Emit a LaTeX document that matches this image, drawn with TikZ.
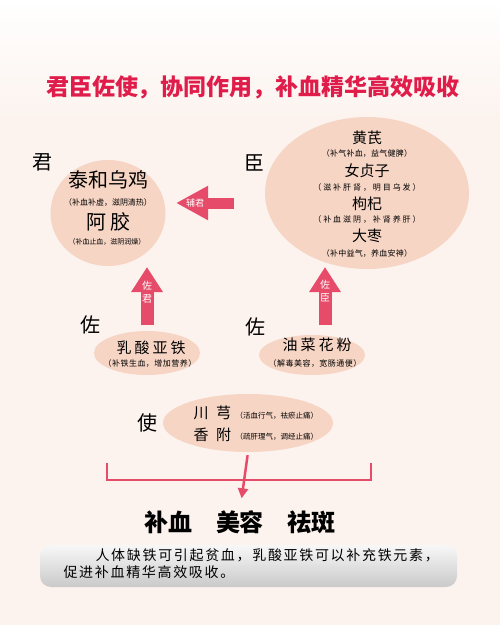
\documentclass[tikz,border=0pt]{standalone}
\usepackage{fontspec}
\setmainfont{Noto Sans CJK SC}
\usetikzlibrary{arrows.meta,shapes.geometric}
\definecolor{bg}{HTML}{FCF3EE}
\definecolor{peach}{HTML}{F6D5C4}
\definecolor{rose}{HTML}{E64C69}
\definecolor{ttl}{HTML}{E01C4A}
\newcommand\fs[2]{\fontsize{#1}{#2}\selectfont}
\newcommand\lsp[1]{\addfontfeature{LetterSpace=#1}}
\begin{document}
\begin{tikzpicture}[x=1pt,y=-1pt,ell/.style={ellipse,fill=peach,inner sep=0pt},gloss/.style={font=\fs{8}{8}},lbl/.style={font=\fs{20}{20}},
blk/.style={draw=rose,line width=#1},brk/.style={draw=rose,line width=2.5pt},wt/.style={text=white,font=\fs{#1}{13}}]
\fill[bg](0,0)rectangle(500,625);\fill[top color=white,bottom color=bg](0,0)rectangle(500,120);
\useasboundingbox(0,0)rectangle(500,625);
\node[text=ttl,font=\bfseries\fs{23}{23}](ttl)at(253,87){君臣佐使，协同作用，补血精华高效吸收};
\node[lbl](jun)at(42,162){君};\node[lbl](chen)at(254,163){臣};\node[lbl](zuoL)at(90,325){佐};\node[lbl](zuoR)at(255,327){佐};\node[lbl](shi)at(147,423){使};
\node[ell,minimum width=115pt,minimum height=106pt](junE)at(108,213){};\node[ell,minimum width=204pt,minimum height=152pt](chenE)at(367,193){};
\node[ell,minimum width=106pt,minimum height=44pt](rsyt)at(147,353){};\node[ell,minimum width=106pt,minimum height=40pt](ychf)at(312,355){};
\node[ell,minimum width=170pt,minimum height=58pt](shiE)at(248,423){};
\node[font=\fs{20}{20}](twj)at(108,180){泰和乌鸡};\node[gloss](twjG)at(108,202){（补血补虚，滋阴清热）};
\node[font=\fs{20}{20}\lsp{20}](ej)at(108,222){阿胶};\node[gloss,font=\fs{7}{7}](ejG)at(107,242){（补血止血，滋阴润燥）};
\node[font=\fs{15}{15}](hq)at(367,138){黄芪};\node[gloss,font=\fs{8}{8}\lsp{3}](hqG)at(367,153){（补气补血，益气健脾）};
\node[font=\fs{15}{15}](nzz)at(367,171){女贞子};\node[gloss,font=\fs{8}{8}\lsp{24}](nzzG)at(367,187){（滋补肝肾，明目乌发）};
\node[font=\fs{15}{15}](gq)at(367,204){枸杞};\node[gloss,font=\fs{8}{8}\lsp{24}](gqG)at(367,219){（补血滋阴，补肾养肝）};
\node[font=\fs{15}{15}](dz)at(367,236){大枣};\node[gloss,font=\fs{8}{8}\lsp{3}](dzG)at(367,253){（补中益气，养血安神）};
\node[font=\fs{15}{15}\lsp{20}](rs)at(151,348){乳酸亚铁};\node[gloss,font=\fs{8}{8}\lsp{6}](rsG)at(150,363){（补铁生血，增加营养）};
\node[font=\fs{15}{15}\lsp{20}](yc)at(317,345){油菜花粉};\node[gloss,font=\fs{8}{8}\lsp{6}](ycG)at(315,363){（解毒美容，宽肠通便）};
\node[anchor=west,font=\fs{15}{15}\lsp{50}](cx)at(190,413){川芎};\node[anchor=west,font=\fs{7.5}{7.5}](cxG)at(232,416){（活血行气，祛瘀止痛）};
\node[anchor=west,font=\fs{15}{15}\lsp{50}](xf)at(190,435){香附};\node[anchor=west,font=\fs{7.5}{7.5}](xfG)at(232,437){（疏肝理气，调经止痛）};
\coordinate(fjA)at(234,203);\coordinate(fjB)at(176,203);\coordinate(zjB)at(147,267);\coordinate(zcA)at(325,325);\coordinate(zcB)at(325,267);
\draw[blk=11pt,-{Triangle[length=32pt,width=32pt]}](fjA)--(fjB)node[wt=9,pos=.67]{辅君};
\draw[blk=13pt,-{Triangle[length=25pt,width=30pt]},shorten <=6pt](rsyt.north)--(zjB)node[wt=10,align=center,pos=.6]{佐\\君};
\draw[blk=13pt,-{Triangle[length=25pt,width=30pt]}](zcA)--(zcB)node[wt=10,align=center,pos=.58]{佐\\臣};
\node[font=\bfseries\fs{24}{24},inner sep=0pt](res)at(240,522){补血\quad 美容\quad 祛斑};
\coordinate(bl)at(107,463);\coordinate(br)at(371,463);
\draw[brk](bl)--++(0,17)-|(br);
\draw[brk,-{Triangle[length=10pt,width=10pt]},shorten <=3pt,shorten >=12pt](shiE.south)--(res.north);
\node[rounded corners=11pt,minimum width=417pt,minimum height=42pt,top color=gray!6,middle color=gray!14,bottom color=gray!42](note)at(248.5,566){};
\node[anchor=west,align=left,font=\fs{14}{17}\lsp{12}](txt)at(60,563.5){\hspace*{32pt}人体缺铁可引起贫血，乳酸亚铁可以补充铁元素，\\促进补血精华高效吸收。};
\end{tikzpicture}
\end{document}
